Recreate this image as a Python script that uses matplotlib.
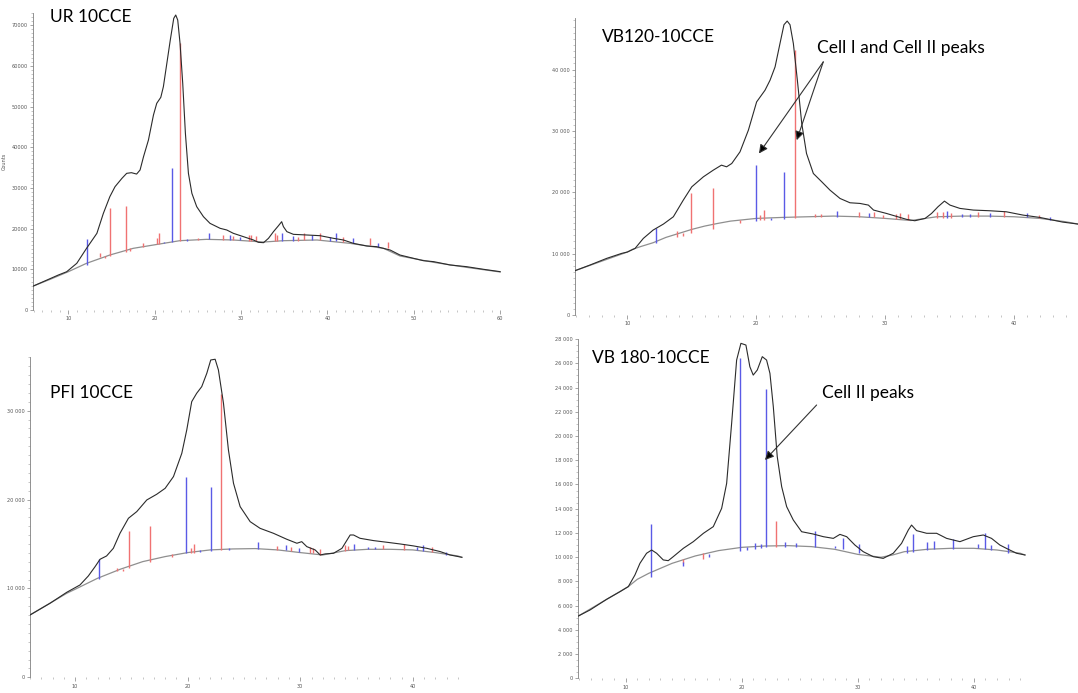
import numpy as np
import matplotlib
matplotlib.use("Agg")
import matplotlib.pyplot as plt
from matplotlib.ticker import MultipleLocator, FixedLocator, FixedFormatter

W, H = 1078, 693

# ---------------- UR 10CCE ----------------
ur_x = [5.95, 8.84, 9.8, 10.97, 12.1, 13.3, 14.05, 14.8, 15.4, 16.2, 16.75, 17.3, 17.9, 18.3,
        18.7, 19.27, 19.85, 20.23, 20.7, 21.0, 21.4, 21.8, 22.2, 22.43, 22.66, 22.93, 23.24,
        23.55, 23.9, 24.3, 24.86, 25.64, 26.4, 27.57, 28.34, 29.1, 30.27, 31.43, 32.0, 32.6,
        33.17, 33.75, 34.3, 34.7, 34.9, 35.3, 36.06, 37.6, 39.15, 40.7, 41.85, 43.0, 44.56,
        45.7, 47.26, 48.4, 49.96, 51.1, 52.3, 54.2, 56.1, 58.1, 60.0]
ur_y = [5900, 8600, 9400, 11470, 15150, 18840, 23750, 27850, 30300, 32350, 33580, 33740, 33400, 34400,
        37670, 41770, 47900, 50780, 52250, 54870, 60600, 66340, 71660, 72480, 71250, 65520, 55690,
        43400, 33580, 28670, 25390, 22930, 21290, 20070, 19660, 18840, 18020, 17200, 16630, 16540,
        17610, 19250, 20640, 21700, 20480, 19250, 18590, 18430, 18260, 17610, 17200, 16380, 15720,
        15560, 14740, 13510, 12700, 12120, 11880, 11060, 10650, 9990, 9420]
ur_bg_x = [5.95, 7.88, 10.0, 12.1, 14.8, 17.5, 19.85, 22.9, 26.0, 29.1, 32.6, 34.9, 38.8, 42.6,
           46.5, 48.4, 52.3, 56.1, 60.0]
ur_bg_y = [5900, 7530, 9420, 11470, 13510, 15150, 15970, 17030, 17360, 17200, 16700, 17030, 17200,
           16380, 15150, 13270, 11710, 10480, 9340]
ur_blue_x = [12.12, 21.12, 22.05, 23.7, 26.3, 28.73, 29.88, 34.79, 36.06, 38.19, 40.31, 41.0, 42.93, 45.9]
ur_blue_lo = [11060, 16380, 16630, 17040, 17360, 17200, 17200, 17030, 17030, 17200, 17030, 17030, 16380, 15560]
ur_blue_hi = [17360, 16790, 34810, 17530, 19000, 18430, 18020, 19000, 18180, 18430, 17850, 18840, 17610, 16380]
ur_red_x = [13.67, 14.25, 14.83, 16.64, 17.14, 18.69, 20.23, 20.54, 22.97, 25.06, 27.95, 29.1, 30.97,
            31.2, 31.7, 33.97, 34.2, 36.64, 37.3, 39.15, 41.85, 44.9, 47.07]
ur_red_lo = [13100, 12860, 13270, 14330, 14580, 15560, 16220, 16220, 17030, 17200, 17200, 17200, 17030,
             17030, 16870, 17030, 17030, 17030, 17200, 17200, 16790, 15970, 15150]
ur_red_hi = [13920, 13270, 24980, 25630, 15150, 16380, 17610, 18840, 65520, 17610, 18350, 18180, 18350,
             18430, 18180, 19000, 18430, 18020, 18840, 18840, 18020, 17770, 16790]

# ---------------- VB120-10CCE ----------------
vb120_x = [5.94, 7.1, 8.4, 9.56, 10.0, 10.6, 11.24, 12.0, 12.8, 13.57, 14.34, 15.0, 15.9, 16.67, 17.3,
           17.7, 18.1, 18.74, 19.39, 20.03, 20.68, 21.07, 21.46, 21.84, 22.15, 22.4, 22.62, 22.88, 23.19,
           23.53, 23.9, 24.43, 25.08, 25.72, 26.5, 27.27, 28.05, 28.7, 29.1, 30.1, 31.15, 31.67, 32.3,
           33.1, 33.6, 34.1, 34.6, 35.03, 35.8, 36.84, 38.1, 39.4, 40.7, 42.0, 43.0, 43.77, 44.96]
vb120_y = [7220, 8140, 9230, 10040, 10260, 10850, 12480, 13840, 14820, 16010, 18720, 20890, 22520, 23610, 24420,
           24150, 24690, 26590, 30120, 34730, 36630, 38260, 40430, 44230, 47300, 47900, 47300, 44230, 38260,
           31210, 26320, 23060, 21710, 20350, 18990, 18290, 18180, 17910, 17100, 16550, 15900, 15580, 15360,
           15740, 16550, 17640, 18560, 17910, 17370, 17100, 16990, 16820, 16280, 15900, 15470, 15140, 14820]
vb120_bg_x = [5.94, 10.0, 10.4, 11, 12, 13, 14, 15, 16, 17, 18, 20, 22, 24, 26, 28, 30, 32, 34,
              36, 38, 40, 42, 44, 44.96]
vb120_bg_y = [7220, 10260, 10700, 11130, 11780, 12650, 13300, 13950, 14490, 14920, 15300, 15740, 15900,
              16010, 16120, 16010, 15740, 15400, 16010, 16120, 16120, 16010, 15740, 15200, 14820]
vb120_blue_x = [12.2, 19.96, 21.17, 22.13, 26.3, 28.75, 34.77, 35.93, 36.6, 38.14, 41.0, 42.8]
vb120_blue_lo = [11670, 15360, 15470, 15680, 16010, 15900, 15740, 16010, 16010, 16010, 15900, 15470]
vb120_blue_hi = [14220, 24480, 15740, 23340, 16930, 16550, 16990, 16440, 16440, 16550, 16550, 15900]
vb120_red_x = [13.83, 14.3, 14.91, 16.67, 18.74, 20.3, 20.6, 23.03, 24.56, 25.0, 28.0, 29.16, 29.86,
               30.84, 31.15, 31.8, 34.0, 34.5, 35.1, 37.23, 39.2, 41.9]
vb120_red_lo = [12650, 12920, 13300, 13950, 15030, 15470, 15470, 15790, 16010, 16010, 16010, 15900, 15740,
                15580, 15580, 15470, 15740, 15740, 15740, 16010, 16010, 15740]
vb120_red_hi = [13680, 13300, 19920, 20620, 15470, 16280, 17100, 43250, 16440, 16440, 16720, 16720, 16280,
                16440, 16550, 16440, 16820, 16720, 16550, 16820, 16990, 16280]

# ---------------- PFI 10CCE ----------------
pfi_x = [6.0, 7.78, 9.26, 10.44, 11.18, 11.78, 12.22, 12.8, 13.4, 13.99, 14.74, 15.48, 16.37, 17.25,
         18.0, 18.74, 19.48, 19.92, 20.36, 20.8, 21.25, 21.7, 22.05, 22.44, 22.73, 23.18, 23.62, 24.07,
         24.66, 25.55, 26.43, 27.62, 28.8, 29.7, 30.13, 30.58, 31.32, 31.77, 32.2, 32.95, 33.7, 34.43,
         34.73, 35.3, 36.5, 37.7, 38.87, 40.06, 41.24, 42.43, 43.3, 44.35]
pfi_y = [7010, 8330, 9560, 10390, 11400, 12450, 13280, 13650, 14510, 16200, 17890, 18640, 19950, 20590,
         21260, 22580, 25200, 27830, 31010, 31950, 32700, 34200, 35700, 35780, 34580, 30830, 25580, 21830,
         19200, 17510, 16760, 16200, 15530, 15080, 15260, 14700, 14330, 13760, 13880, 13950, 14510, 16010,
         16010, 15640, 15380, 15190, 15000, 14780, 14510, 14140, 13760, 13500]
pfi_bg_x = [6.0, 9.26, 10, 12, 14, 16, 18, 20, 22, 24, 26, 28, 30, 32, 34, 36, 38, 40, 42, 44, 44.35]
pfi_bg_y = [7010, 9450, 9900, 11140, 12150, 13010, 13580, 14030, 14330, 14440, 14480, 14330, 14030, 13760,
            14250, 14400, 14400, 14330, 14030, 13650, 13500]
pfi_blue_x = [12.16, 19.86, 21.1, 22.05, 23.7, 26.29, 28.7, 29.9, 34.78, 35.97, 36.65, 40.35, 40.94, 42.9]
pfi_blue_lo = [11030, 13950, 14140, 14250, 14330, 14480, 14330, 14140, 14330, 14400, 14400, 14330, 14250, 13760]
pfi_blue_hi = [13280, 22500, 14330, 21380, 14510, 15230, 14850, 14510, 15000, 14630, 14700, 14630, 14890, 14140]
pfi_red_x = [13.76, 14.23, 14.83, 16.66, 18.65, 20.27, 20.54, 22.97, 27.9, 29.19, 30.88, 31.17, 31.77,
             33.93, 34.28, 37.33, 39.23, 41.68]
pfi_red_lo = [11960, 12000, 12260, 13010, 13580, 13950, 14030, 14330, 14330, 14250, 14030, 13950, 13760,
              14250, 14330, 14400, 14330, 14140]
pfi_red_hi = [12340, 12150, 16500, 17060, 13880, 14510, 15000, 31880, 14810, 14700, 14630, 14510, 14400,
              14890, 14780, 14890, 15000, 14630]

# ---------------- VB 180-10CCE ----------------
vb180_x = [5.92, 6.93, 8.36, 9.51, 10.23, 10.8, 11.23, 11.8, 12.24, 12.67, 13.24, 13.67, 14.1, 14.97,
           15.83, 16.7, 17.55, 18.27, 18.7, 19.13, 19.56, 19.93, 20.36, 20.7, 20.99, 21.34, 21.77, 22.14,
           22.43, 22.72, 23.06, 23.44, 23.87, 24.44, 25.16, 26.16, 27.03, 27.89, 28.46, 29.04, 29.75,
           30.47, 31.33, 32.19, 33.05, 33.77, 34.35, 34.63, 35.06, 35.93, 36.79, 37.65, 38.8, 39.95,
           40.81, 41.52, 42.24, 42.96, 43.68, 44.4]
vb180_y = [5140, 5640, 6520, 7150, 7570, 8530, 9490, 10320, 10590, 10320, 9770, 9710, 10040, 10730,
           11280, 11970, 12520, 14030, 16090, 21050, 26270, 27650, 27510, 25720, 25030, 25450, 26550, 26270,
           25170, 22420, 18290, 15820, 14170, 13070, 12100, 11910, 11690, 11550, 11880, 11690, 11000,
           10450, 10040, 9900, 10320, 11140, 12240, 12650, 12190, 11970, 11970, 11550, 11280, 11690,
           11830, 11550, 11000, 10650, 10320, 10180]
vb180_bg_x = [5.92, 10.23, 11, 12, 14, 16, 18, 20, 22, 24, 26, 28, 30, 32, 33, 34, 36, 38, 40, 42, 44, 44.4]
vb180_bg_y = [5140, 7570, 8170, 8670, 9490, 10100, 10540, 10810, 10920, 10950, 10870, 10650, 10230, 9990,
              10180, 10450, 10650, 10730, 10730, 10590, 10320, 10180]
vb180_blue_x = [12.18, 14.91, 17.2, 19.88, 20.48, 21.14, 21.63, 22.09, 23.72, 24.67, 26.3, 28.03, 28.69,
                30.1, 34.2, 34.78, 35.98, 36.59, 38.22, 40.37, 40.95, 41.47, 42.96]
vb180_blue_lo = [8340, 9270, 9990, 10540, 10590, 10670, 10730, 10810, 10870, 10870, 10870, 10730, 10650,
                 10320, 10320, 10450, 10590, 10650, 10650, 10730, 10650, 10590, 10320]
vb180_blue_hi = [12740, 9630, 10260, 26410, 10870, 11200, 11060, 23850, 11220, 11140, 12160, 10950, 11550,
                 11090, 10920, 11880, 11280, 11330, 11500, 11090, 11970, 11000, 11090]
vb180_red_x = [14.91, 16.66, 22.95]
vb180_red_lo = [9550, 9820, 10870]
vb180_red_hi = [9820, 10320, 13010]

fig = plt.figure(figsize=(W / 100, H / 100), dpi=100)

RED = "#f07272"
BLUE = "#5a5ae6"
LINE = "#2b2b2b"
BGC = "#8f8f8f"
TXT = ["Lato", "DejaVu Sans"]


def px_axes(l, t, r, b):
    return fig.add_axes([l / W, 1 - b / H, (r - l) / W, (b - t) / H])


def style(ax, xlim, ylim, xt, yt, ylabels, yminor):
    ax.set_xlim(*xlim)
    ax.set_ylim(*ylim)
    for s in ["top", "right", "bottom"]:
        ax.spines[s].set_visible(False)
    ax.spines["left"].set_color("#808080")
    ax.spines["left"].set_linewidth(0.6)
    ax.xaxis.set_major_locator(FixedLocator(xt))
    ax.xaxis.set_minor_locator(MultipleLocator(1))
    ax.yaxis.set_major_locator(FixedLocator(yt))
    ax.yaxis.set_major_formatter(FixedFormatter(ylabels))
    ax.yaxis.set_minor_locator(MultipleLocator(yminor))
    ax.tick_params(axis="both", which="major", labelsize=3.6, labelcolor="#555555",
                   color="#808080", width=0.5, length=2.5, pad=1.5)
    ax.tick_params(axis="both", which="minor", color="#9a9a9a", width=0.4, length=1.2)
    ax.tick_params(axis="x", which="major", length=3)
    ax.set_facecolor("none")


def draw(ax, x, y, bx, by, bl_x, bl_lo, bl_hi, rd_x, rd_lo, rd_hi):
    ax.plot(bx, by, color=BGC, lw=0.9, zorder=2)
    ax.vlines(rd_x, rd_lo, rd_hi, colors=RED, lw=1.0, zorder=3)
    ax.vlines(bl_x, bl_lo, bl_hi, colors=BLUE, lw=1.0, zorder=3)
    ax.plot(x, y, color=LINE, lw=0.8, zorder=4)


# UR 10CCE
ax1 = px_axes(33, 12.9, 501, 310)
draw(ax1, ur_x, ur_y, ur_bg_x, ur_bg_y, ur_blue_x, ur_blue_lo, ur_blue_hi, ur_red_x, ur_red_lo, ur_red_hi)
style(ax1, (5.9, 60.1), (0, 73000), [10, 20, 30, 40, 50, 60],
      [0, 10000, 20000, 30000, 40000, 50000, 60000, 70000],
      ["0", "10000", "20000", "30000", "40000", "50000", "60000", "70000"], 1000)
ax1.set_ylabel("Counts", fontsize=3.6, color="#555555", labelpad=3)

# VB120-10CCE
ax2 = px_axes(575, 18, 1078, 315)
draw(ax2, vb120_x, vb120_y, vb120_bg_x, vb120_bg_y, vb120_blue_x, vb120_blue_lo, vb120_blue_hi,
     vb120_red_x, vb120_red_lo, vb120_red_hi)
style(ax2, (5.94, 44.96), (0, 48400), [10, 20, 30, 40],
      [0, 10000, 20000, 30000, 40000], ["0", "10 000", "20 000", "30 000", "40 000"], 1000)
for tip in [(20.21, 26320), (23.14, 28490)]:
    ax2.annotate("", xy=tip, xytext=(25.2, 41250),
                 arrowprops=dict(arrowstyle="-|>", color="#333333", lw=0.8,
                                 mutation_scale=13, shrinkA=0, shrinkB=0, fc="black"))

# PFI 10CCE
ax3 = px_axes(30, 357.3, 463, 677.3)
draw(ax3, pfi_x, pfi_y, pfi_bg_x, pfi_bg_y, pfi_blue_x, pfi_blue_lo, pfi_blue_hi, pfi_red_x, pfi_red_lo, pfi_red_hi)
style(ax3, (6.0, 44.45), (0, 36000), [10, 20, 30, 40],
      [0, 10000, 20000, 30000], ["0", "10 000", "20 000", "30 000"], 1000)

# VB 180-10CCE
ax4 = px_axes(578.3, 339.1, 1026.7, 678.3)
draw(ax4, vb180_x, vb180_y, vb180_bg_x, vb180_bg_y, vb180_blue_x, vb180_blue_lo, vb180_blue_hi,
     vb180_red_x, vb180_red_lo, vb180_red_hi)
vb180_ticks = list(range(0, 28001, 2000))
style(ax4, (5.92, 44.55), (0, 28000), [10, 20, 30, 40],
      vb180_ticks, ["0"] + [f"{t // 1000} 000" for t in vb180_ticks[1:]], 500)
ax4.annotate("", xy=(22.0, 18020), xytext=(26.45, 22560),
             arrowprops=dict(arrowstyle="-|>", color="#333333", lw=0.8,
                             mutation_scale=13, shrinkA=0, shrinkB=0, fc="black"))

# panel labels and notes
labels = [("UR 10CCE", 50, 17), ("VB120-10CCE", 602, 37), ("Cell I and Cell II peaks", 817, 48),
          ("PFI 10CCE", 50, 393), ("VB 180-10CCE", 592, 358), ("Cell II peaks", 822, 393)]
for txt, px, py in labels:
    fig.text(px / W, 1 - py / H, txt, fontsize=12.5, family=TXT, color="black",
             ha="left", va="center")

fig.savefig("out.png", dpi=100)
